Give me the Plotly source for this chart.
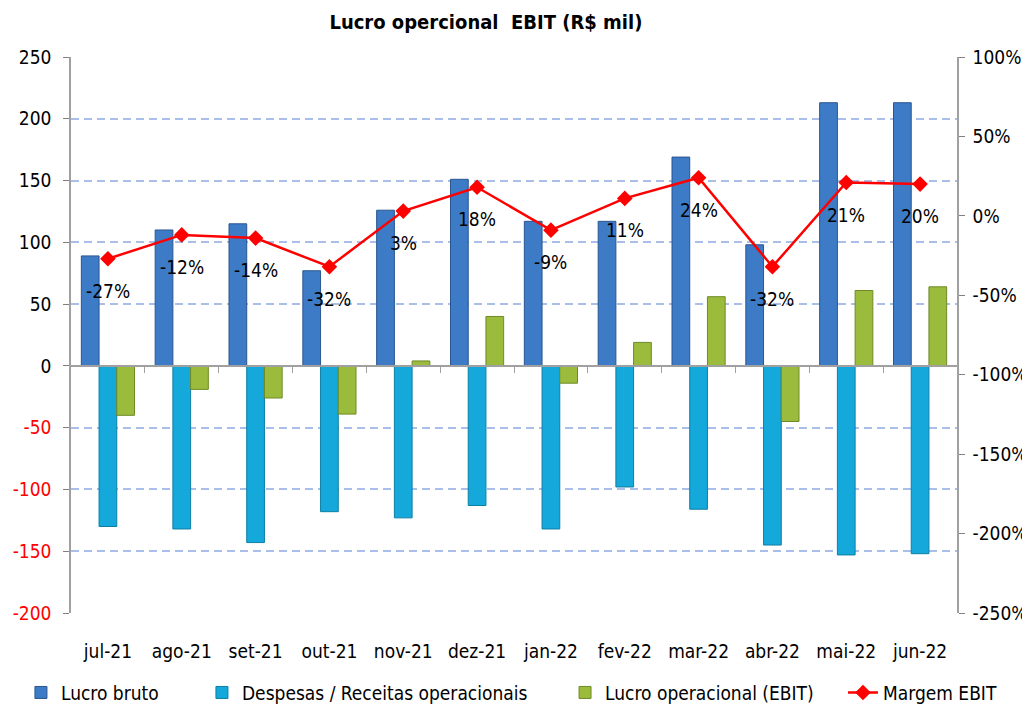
import plotly.graph_objects as go

categories = ["jul-21", "ago-21", "set-21", "out-21", "nov-21", "dez-21",
              "jan-22", "fev-22", "mar-22", "abr-22", "mai-22", "jun-22"]
lucro_bruto = [89, 110, 115, 77, 126, 151, 117, 117, 169, 98, 213, 213]
despesas = [-130, -132, -143, -118, -123, -113, -132, -98, -116, -145, -153, -152]
ebit = [-40, -19, -26, -39, 4, 40, -14, 19, 56, -45, 61, 64]
margem = [-27, -12, -14, -32, 3, 18, -9, 11, 24, -32, 21, 20]

left_ticks = [250, 200, 150, 100, 50, 0, -50, -100, -150, -200]
right_ticks = [100, 50, 0, -50, -100, -150, -200, -250]

FONT = "DejaVu Sans Condensed, Liberation Sans Narrow, Arial Narrow, sans-serif"
FS = 19
Y_MIN, Y_MAX = -200, 250

def left_label(v):
    if v < 0:
        return f"<span style='color:#FF0000'>{v}</span>"
    return str(v)

fig = go.Figure()
fig.add_trace(go.Bar(x=categories, y=lucro_bruto, name="Lucro bruto", legend="legend",
                     marker=dict(color="#3D7BC6", line=dict(color="#2A5590", width=1))))
fig.add_trace(go.Bar(x=categories, y=despesas, name="Despesas / Receitas operacionais",
                     legend="legend2",
                     marker=dict(color="#14A9DA", line=dict(color="#0D7FA6", width=1))))
fig.add_trace(go.Bar(x=categories, y=ebit, name="Lucro operacional (EBIT)", legend="legend3",
                     marker=dict(color="#9BBB3C", line=dict(color="#6F8A27", width=1))))
fig.add_trace(go.Scatter(x=categories, y=margem, name="Margem EBIT", yaxis="y2",
                         legend="legend4", mode="lines+markers",
                         line=dict(color="#FF0000", width=2.5),
                         marker=dict(symbol="diamond", size=12, color="#FF0000")))
# empty helper trace so that the category-boundary tick axis at zero gets drawn
fig.add_trace(go.Scatter(x=[None], y=[None], xaxis="x2", yaxis="y", mode="markers",
                         showlegend=False, hoverinfo="skip"))

for c, v in zip(categories, margem):
    fig.add_annotation(x=c, y=v, yref="y2", text=f"{v}%", showarrow=False,
                       yshift=-32, font=dict(size=FS, color="#000000", family=FONT))

def leg(x):
    return dict(orientation="h", x=x, xanchor="left", y=-0.109, yanchor="top",
                font=dict(size=FS, family=FONT), bgcolor="rgba(0,0,0,0)")

n = len(categories)
fig.update_layout(
    width=1030, height=709,
    paper_bgcolor="white", plot_bgcolor="white",
    margin=dict(l=63, r=81, t=49, b=104, autoexpand=False),
    font=dict(family=FONT, size=FS, color="#000000"),
    title=dict(text="<b>Lucro opercional  EBIT (R$ mil)</b>", x=0.464, xanchor="center",
               y=0.980, yanchor="middle", font=dict(size=20, family=FONT)),
    barmode="group", bargap=0.28, bargroupgap=0.0,
    showlegend=True,
    legend=leg(-0.0565),
    legend2=leg(0.1478),
    legend3=leg(0.5576),
    legend4=leg(0.8713),
    xaxis=dict(range=[-0.5, n - 0.5], showline=False, ticks="", tickfont=dict(size=FS),
               automargin=False, ticklabelstandoff=25),
    xaxis2=dict(overlaying="x", anchor="free", position=(0 - Y_MIN) / (Y_MAX - Y_MIN),
                type="linear", range=[-0.5, n - 0.5],
                tickvals=[i + 0.5 for i in range(n - 1)], showticklabels=False,
                ticks="outside", ticklen=6, tickcolor="#A0A0A0", tickwidth=1.3,
                showline=True, linecolor="#A0A0A0", linewidth=1.5, showgrid=False,
                zeroline=False, automargin=False),
    yaxis=dict(range=[Y_MIN, Y_MAX], tickvals=left_ticks,
               ticktext=[left_label(v) for v in left_ticks], automargin=False,
               showgrid=True, gridcolor="#A9BFEA", griddash="8px,5px", gridwidth=1.5,
               zeroline=True, zerolinecolor="#A0A0A0", zerolinewidth=1.5,
               showline=True, linecolor="#A0A0A0", linewidth=1.5,
               ticks="outside", ticklen=6, tickcolor="#808080", ticklabelstandoff=8),
    yaxis2=dict(range=[-250, 100], tickvals=right_ticks,
                ticktext=[f"{v}%" for v in right_ticks], automargin=False,
                overlaying="y", side="right", showgrid=False, zeroline=False,
                showline=True, linecolor="#A0A0A0", linewidth=1.5,
                ticks="outside", ticklen=6, tickcolor="#808080", ticklabelstandoff=4),
)

fig.write_html("out.html")
